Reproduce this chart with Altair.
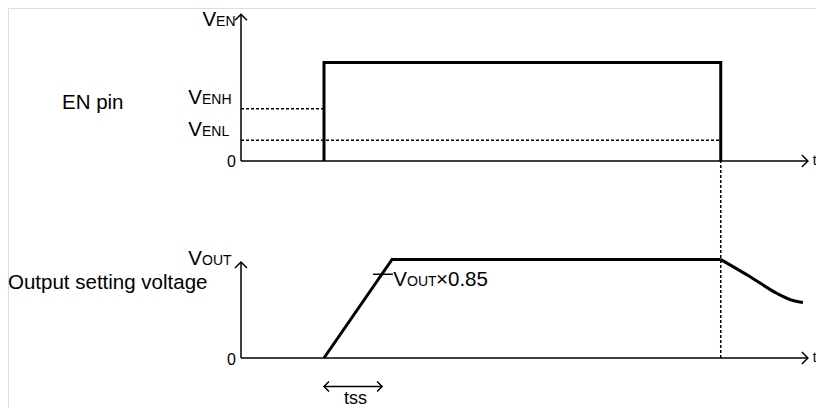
import altair as alt
import pandas as pd

# ---- data (time units t, voltage units v) ----
OFFSET = 2.0  # vertical offset of the upper (EN) panel

EN_T = [1.0, 1.0, 5.78, 5.78]
EN_V = [0.0, 1.0, 1.0, 0.0]

RAMP_T = [1.0, 1.82, 5.78]
RAMP_V = [0.0, 1.0, 1.0]

DECAY_T = [5.78, 6.13, 6.46, 6.65, 6.77]
DECAY_V = [1.0, 0.827, 0.655, 0.584, 0.563]

VENH = 0.53
VENL = 0.21
T_EN_ON = 1.0
T_EN_OFF = 5.78
T_END = 6.83
VEN_AXIS_TOP = 1.49
VOUT_AXIS_TOP = 0.975
TSS_START = 1.0
TSS_END = 1.70
TSS_Y = -0.29
TICK_V = 0.85
TICK_T = [1.59, 1.83]

# ---- build tables ----
path_rows = []
for t, v in zip(EN_T, EN_V):
    path_rows.append({"s": "en", "t": t, "y": v + OFFSET})
for t, v in zip(RAMP_T, RAMP_V):
    path_rows.append({"s": "ramp", "t": t, "y": v})
paths = pd.DataFrame(path_rows)
paths["o"] = range(len(paths))

decay = pd.DataFrame({"t": DECAY_T, "y": DECAY_V})

axes = pd.DataFrame([
    {"t": 0, "t2": 0, "y": OFFSET, "y2": OFFSET + VEN_AXIS_TOP},
    {"t": 0, "t2": T_END, "y": OFFSET, "y2": OFFSET},
    {"t": 0, "t2": 0, "y": 0, "y2": VOUT_AXIS_TOP},
    {"t": 0, "t2": T_END, "y": 0, "y2": 0},
    {"t": TSS_START, "t2": TSS_END, "y": TSS_Y, "y2": TSS_Y},
    {"t": TICK_T[0], "t2": TICK_T[1], "y": TICK_V, "y2": TICK_V},
])

dashed = pd.DataFrame([
    {"t": 0, "t2": T_EN_ON, "y": OFFSET + VENH, "y2": OFFSET + VENH},
    {"t": 0, "t2": T_EN_OFF, "y": OFFSET + VENL, "y2": OFFSET + VENL},
    {"t": T_EN_OFF, "t2": T_EN_OFF, "y": 0, "y2": OFFSET},
])

heads = pd.DataFrame([
    {"t": 0, "y": OFFSET + VEN_AXIS_TOP, "k": "up"},
    {"t": 0, "y": VOUT_AXIS_TOP, "k": "up"},
    {"t": T_END, "y": OFFSET, "k": "right"},
    {"t": T_END, "y": 0, "k": "right"},
])
small_heads = pd.DataFrame([
    {"t": TSS_START, "y": TSS_Y, "k": "left"},
    {"t": TSS_END, "y": TSS_Y, "k": "right"},
])

big_text = pd.DataFrame([
    {"t": -2.157, "y": OFFSET + 0.589, "txt": "EN pin"},
    {"t": -2.807, "y": 0.76, "txt": "Output setting voltage"},
])
v_text = pd.DataFrame([
    {"t": -0.30, "y": OFFSET + 1.37, "big": "V", "small": "EN"},
    {"t": -0.47, "y": OFFSET + 0.579, "big": "V", "small": "ENH"},
    {"t": -0.47, "y": OFFSET + 0.254, "big": "V", "small": "ENL"},
    {"t": -0.47, "y": 0.945, "big": "V", "small": "OUT"},
    {"t": 2.0, "y": 0.731, "big": "V", "small": "OUT"},
])
times_text = pd.DataFrame([{"t": 2.35, "y": 0.731, "txt": "×0.85"}])
zero_text = pd.DataFrame([
    {"t": -0.06, "y": OFFSET - 0.061, "txt": "0"},
    {"t": -0.06, "y": -0.071, "txt": "0"},
])
tss_text = pd.DataFrame([{"t": 1.38, "y": -0.465, "txt": "tss"}])
t_text = pd.DataFrame([
    {"t": 6.89, "y": OFFSET, "txt": "t"},
    {"t": 6.89, "y": 0, "txt": "t"},
])

# ---- scales ----
xs = alt.Scale(domain=[0, 1], range=[233, 316], nice=False, zero=False)
ys = alt.Scale(domain=[0, 1], range=[350, 251.5], nice=False, zero=False)
X = lambda f="t": alt.X(f"{f}:Q", scale=xs, axis=None)
Y = lambda f="y": alt.Y(f"{f}:Q", scale=ys, axis=None)
FONT = "Liberation Sans"
BIG = 20.5
SMALL = 14

line_layer = alt.Chart(paths).mark_line(color="black", strokeWidth=3, strokeJoin="miter", interpolate="linear").encode(
    x=X(), y=Y(), detail="s:N", order="o:Q"
)
decay_layer = alt.Chart(decay).mark_line(color="black", strokeWidth=3, interpolate="monotone").encode(
    x=X(), y=Y(), order="t:Q"
)
axis_layer = alt.Chart(axes).mark_rule(color="black", strokeWidth=1.5).encode(
    x=X(), x2="t2:Q", y=Y(), y2="y2:Q"
)
dash_layer = alt.Chart(dashed).mark_rule(color="black", strokeWidth=1.5, strokeDash=[3, 2]).encode(
    x=X(), x2="t2:Q", y=Y(), y2="y2:Q"
)

def head_layer(df, kind, path, size):
    return alt.Chart(df).transform_filter(alt.datum.k == kind).mark_point(
        shape=path, filled=False, color="black", strokeWidth=1.5, size=size, opacity=1
    ).encode(x=X(), y=Y())

head_layers = [
    head_layer(heads, "up", "M -1 1 L 0 0 L 1 1", 144),
    head_layer(heads, "right", "M -1 -1 L 0 0 L -1 1", 144),
    head_layer(small_heads, "left", "M 1 -1 L 0 0 L 1 1", 100),
    head_layer(small_heads, "right", "M -1 -1 L 0 0 L -1 1", 100),
]

big_layer = alt.Chart(big_text).mark_text(font=FONT, fontSize=BIG, align="left", baseline="middle", color="black").encode(
    x=X(), y=Y(), text="txt:N"
)
v_big = alt.Chart(v_text).mark_text(font=FONT, fontSize=BIG, align="right", baseline="alphabetic", color="black").encode(
    x=X(), y=Y(), text="big:N"
)
v_small = alt.Chart(v_text).mark_text(font=FONT, fontSize=SMALL, align="left", baseline="alphabetic", color="black").encode(
    x=X(), y=Y(), text="small:N"
)
times_layer = alt.Chart(times_text).mark_text(font=FONT, fontSize=BIG, align="left", baseline="alphabetic", color="black").encode(
    x=X(), y=Y(), text="txt:N"
)
zero_layer = alt.Chart(zero_text).mark_text(font=FONT, fontSize=16, align="right", baseline="alphabetic", color="black").encode(
    x=X(), y=Y(), text="txt:N"
)
tss_layer = alt.Chart(tss_text).mark_text(font=FONT, fontSize=18, align="center", baseline="alphabetic", color="black").encode(
    x=X(), y=Y(), text="txt:N"
)
t_layer = alt.Chart(t_text).mark_text(font=FONT, fontSize=14, align="left", baseline="middle", color="black").encode(
    x=X(), y=Y(), text="txt:N"
)

chart = alt.layer(
    dash_layer, axis_layer, line_layer, decay_layer, *head_layers,
    big_layer, v_big, v_small, times_layer, zero_layer, tss_layer, t_layer
).properties(
    width=808, height=400, autosize=alt.AutoSizeParams(type="none"), padding=0
).configure_view(strokeWidth=0).configure(background="white")

chart.save("out.html", embed_options={"renderer": "svg", "actions": False})
